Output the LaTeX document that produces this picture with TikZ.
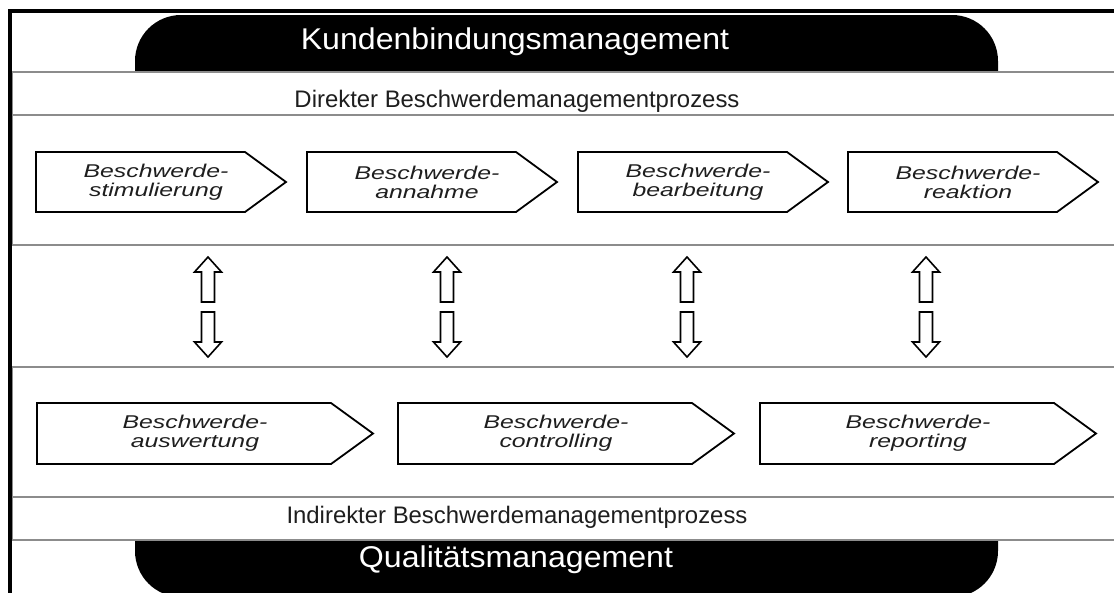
\documentclass[tikz,border=0pt]{standalone}
\usepackage{fontspec}
\setmainfont{Liberation Sans}
\newfontfamily\chevfont[FakeStretch=1.34]{Liberation Sans}
\newfontfamily\headfont[FakeStretch=1.07]{Liberation Sans}
\definecolor{bandgray}{HTML}{8C8C8C}
\definecolor{txtgray}{HTML}{1E1E1E}
\begin{document}
\begin{tikzpicture}[x=1pt,y=-1pt,
  band/.style={draw=bandgray, line width=1.5pt, fill=white},
  chevron/.style={draw=black, line width=1.8pt, fill=white, line join=miter},
  dblarrow/.style={draw=black, line width=1.6pt, fill=white, line join=miter},
  tab/.style={fill=black, rounded corners=46pt},
  frame/.style={draw=black, line width=4pt},
  headtxt/.style={text=white, font=\headfont\fontsize{30}{32}\selectfont, anchor=base, inner sep=0pt},
  bandtxt/.style={text=txtgray, font=\fontsize{23.9}{26}\selectfont, anchor=base, inner sep=0pt},
  chevtxt/.style={text=txtgray, font=\chevfont\itshape\fontsize{18.5}{19}\selectfont, align=center, inner sep=0pt}]
\useasboundingbox (0,0) rectangle (1114,592);
\clip (0,0) rectangle (1114,592);
% black tabs
\fill[tab] (135,15) rectangle (998,140);
\fill[tab] (135,470) rectangle (998,597);
% upper boxes
\draw[band] (12,72) rectangle (1125,245);
\draw[band] (12,115) -- (1125,115);
% lower boxes
\draw[band] (12,367) rectangle (1125,540);
\draw[band] (12,497) -- (1125,497);
% frame
\draw[frame] (9.5,600) -- (9.5,10.5) -- (1120,10.5);
% titles
\node[headtxt] (kbm) at (515,49) {Kundenbindungsmanagement};
\node[bandtxt] (dir) at (517,107) {Direkter Beschwerdemanagementprozess};
\node[bandtxt] (ind) at (517,523) {Indirekter Beschwerdemanagementprozess};
\node[headtxt] (qm) at (516,567) {Qualitätsmanagement};
% upper chevrons
\foreach \x/\n/\t in {36/sti/{Beschwerde-\\stimulierung},307/ann/{Beschwerde-\\annahme},578/bea/{Beschwerde-\\bearbeitung},848/rea/{Beschwerde-\\reaktion}}{
  \draw[chevron] (\x,152) -- (\x+209,152) -- (\x+250,182) -- (\x+209,212) -- (\x,212) -- cycle;
  \node[chevtxt] (\n) at (\x+120,182) {\t};
}
% lower chevrons
\foreach \x/\n/\t in {37/aus/{Beschwerde-\\auswertung},398/con/{Beschwerde-\\controlling},760/rep/{Beschwerde-\\reporting}}{
  \draw[chevron] (\x,403) -- (\x+294,403) -- (\x+336,433.5) -- (\x+294,464) -- (\x,464) -- cycle;
  \node[chevtxt] (\n) at (\x+158,433.5) {\t};
}
% double arrows
\foreach \c in {208,447,687,926}{
  \draw[dblarrow] (\c,257) -- (\c+13.5,272) -- (\c+6.5,272) -- (\c+6.5,302) -- (\c-6.5,302) -- (\c-6.5,272) -- (\c-13.5,272) -- cycle;
  \draw[dblarrow] (\c-6.5,312) -- (\c+6.5,312) -- (\c+6.5,342) -- (\c+13.5,342) -- (\c,357) -- (\c-13.5,342) -- (\c-6.5,342) -- cycle;
}
\end{tikzpicture}
\end{document}
